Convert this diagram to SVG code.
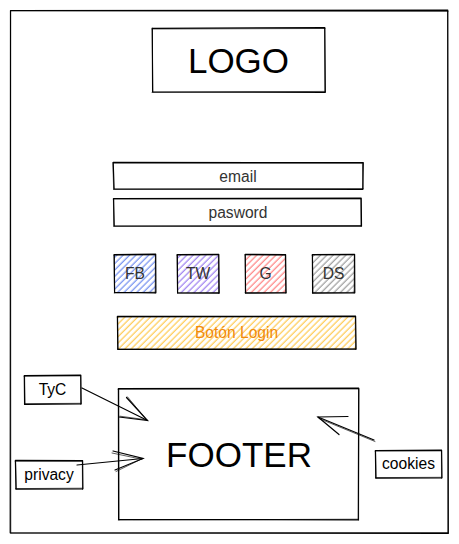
<svg xmlns="http://www.w3.org/2000/svg" width="459" height="544" viewBox="0 0 459 544">
<defs>
<style>
.s{fill:none;stroke:#000;stroke-width:1.2;stroke-linecap:round;stroke-linejoin:round}
.s2{fill:none;stroke:#000;stroke-width:0.8;stroke-linecap:round;opacity:0.8}
.t{font-family:"Liberation Sans",Arial,sans-serif;fill:#000;text-anchor:middle;dominant-baseline:central;font-size:15.6px}
.big{font-size:35px}
.g3{fill:#333}
.or{fill:#f08a0b}
.c{fill:none;stroke:#000;stroke-width:1.2;stroke-linecap:round}
</style>
<pattern id="hb" width="4.5" height="4.5" patternUnits="userSpaceOnUse" patternTransform="rotate(45)"><line x1="2" y1="0" x2="2" y2="4.5" stroke="#6f8cf0" stroke-width="1.2"/></pattern>
<pattern id="hp" width="4.5" height="4.5" patternUnits="userSpaceOnUse" patternTransform="rotate(45)"><line x1="2" y1="0" x2="2" y2="4.5" stroke="#9b7cf0" stroke-width="1.2"/></pattern>
<pattern id="hr" width="4.5" height="4.5" patternUnits="userSpaceOnUse" patternTransform="rotate(45)"><line x1="2" y1="0" x2="2" y2="4.5" stroke="#ff7f7f" stroke-width="1.2"/></pattern>
<pattern id="hg" width="4.5" height="4.5" patternUnits="userSpaceOnUse" patternTransform="rotate(45)"><line x1="2" y1="0" x2="2" y2="4.5" stroke="#9a9a9a" stroke-width="1.2"/></pattern>
<pattern id="hy" width="4.5" height="4.5" patternUnits="userSpaceOnUse" patternTransform="rotate(45)"><line x1="2" y1="0" x2="2" y2="4.5" stroke="#ffc94d" stroke-width="1.2"/></pattern>
</defs>
<rect width="459" height="544" fill="#fff"/>

<g id="frame">
<path class="s" d="M10.5 10.5 L447.8 10.2 L448.3 533.4 L10.2 532.8 Z"/>
<path class="s2" d="M11 11 L448 11.5 M447.5 11 L447.9 533 M448 532.5 L11 533 M10.8 533 L10.6 11"/>
</g>

<g id="logo">
<rect x="152" y="28" width="173" height="64" fill="#fff"/>
<path class="s" d="M152.3 28.4 L324.8 27.6 L325.3 92.3 L152.6 91.8 Z"/>
<path class="s2" d="M152 29 L325 28.5 M324.6 28 L324.9 92 M325 91.4 L152 92.4 M152.8 92 L152.2 28"/>
<text class="t big" x="238.5" y="60.5">LOGO</text>
</g>

<g id="email">
<rect x="113" y="162" width="250" height="27" fill="#fff"/>
<path class="s" d="M113.2 162.3 L363.3 162.7 L362.8 189.3 L114.1 188.8 Z"/>
<path class="s2" d="M113.5 163 L362.5 163.3 M362.4 162.5 L363 189 M363 188.6 L113.5 189.5 M113.6 189 L112.9 162.6"/>
<text class="t g3" x="238" y="176">email</text>
</g>

<g id="password">
<rect x="113" y="198" width="248" height="28" fill="#fff"/>
<path class="s" d="M113.6 198.5 L361.2 198.2 L361.5 226.2 L114.2 225.8 Z"/>
<path class="s2" d="M113.2 199.2 L360.6 199 M360.8 198.6 L361 226 M361 225.5 L113.6 226.4 M113.8 226 L113.4 198.6"/>
<text class="t g3" x="238" y="212">pasword</text>
</g>

<g id="fb">
<rect x="114" y="254" width="42" height="39" fill="url(#hb)"/>
<path class="s" d="M114.2 254.6 L155.7 254.2 L155.9 292.8 L114.6 292.4 Z"/>
<path class="s2" d="M113.8 255.2 L155.3 255 M155.4 254.6 L155.2 293 M155.6 292.2 L114.2 293 M114.5 292.8 L114.1 254.7"/>
<text class="t g3" x="135" y="273">FB</text>
</g>

<g id="tw">
<rect x="177" y="254" width="42" height="39" fill="url(#hp)"/>
<path class="s" d="M177.3 254.5 L218.8 254.4 L219.2 293.2 L177.6 292.8 Z"/>
<path class="s2" d="M177 255.3 L218.5 255 M218.4 254.8 L218.6 293.5 M218.9 292.6 L177.4 293 M177.5 293.1 L177.1 254.4"/>
<text class="t g3" x="198" y="273">TW</text>
</g>

<g id="g">
<rect x="245" y="254" width="41" height="39" fill="url(#hr)"/>
<path class="s" d="M245.2 254.3 L285.6 254.7 L286.1 292.9 L245.5 293.2 Z"/>
<path class="s2" d="M245 255 L285.4 255.3 M285.3 254.4 L285.6 293 M285.9 292.5 L245.1 292.6 M245.6 293 L245.3 254.5"/>
<text class="t g3" x="265.5" y="273">G</text>
</g>

<g id="ds">
<rect x="312" y="254" width="43" height="39" fill="url(#hg)"/>
<path class="s" d="M312.4 254.5 L354.6 254.3 L354.8 292.8 L312.6 293.2 Z"/>
<path class="s2" d="M312 255.2 L354.2 255 M354.3 254.6 L354.2 293 M354.5 292.4 L312.3 292.7 M312.9 293 L312.5 254.6"/>
<text class="t g3" x="333.5" y="273">DS</text>
</g>

<g id="login">
<rect x="117" y="316" width="239" height="33" fill="url(#hy)"/>
<path class="s" d="M117.4 316.4 L355.6 316.2 L356.1 349.2 L117.8 349.5 Z"/>
<path class="s2" d="M117.2 317.1 L355.3 316.9 M355.3 316.5 L355.5 349.5 M355.7 348.7 L117.4 348.9 M118 349.4 L117.6 316.5"/>
<text class="t or" x="236.5" y="332.5">Botón Login</text>
</g>

<g id="footer">
<path class="s" d="M118.4 388.6 L358.7 388.2 L358.3 519.8 L118.6 519.4 Z"/>
<path class="s2" d="M118 389.3 L358.3 389 M358.9 388.8 L358.6 520.3 M358.5 519.2 L118.3 520.1 M119 520 L118.8 388.4"/>
<text class="t big" x="239" y="454">FOOTER</text>
</g>

<g id="tyc">
<rect x="24" y="375" width="57" height="29" fill="#fff"/>
<path class="s" d="M24.3 375.6 L80.8 375.2 L81.2 403.9 L24.6 404.4 Z"/>
<path class="s2" d="M24 376.3 L80.4 375.9 M80.6 375.4 L80.6 404.3 M80.9 403.3 L24.3 403.7 M25 404.2 L24.6 375.5"/>
<text class="t" x="52.5" y="389.5">TyC</text>
</g>

<g id="privacy">
<rect x="15" y="460" width="68" height="29" fill="#fff"/>
<path class="s" d="M15.4 460.4 L82.6 460.7 L82.9 488.8 L16 489.2 Z"/>
<path class="s2" d="M15.1 461.2 L82.4 461.4 M82.3 460.4 L82.5 489.5 M82.8 488.2 L15.5 488.6 M16.2 489 L15.6 460.6"/>
<text class="t" x="49" y="474.5">privacy</text>
</g>

<g id="cookies">
<rect x="375" y="450" width="67" height="28" fill="#fff"/>
<path class="s" d="M375.4 450.5 L441.6 450.2 L442 477.8 L375.8 478.2 Z"/>
<path class="s2" d="M375.1 451.2 L441.3 450.9 M441.4 450.4 L441.5 478.3 M441.7 477.3 L375.5 477.6 M376.1 478 L375.6 450.4"/>
<text class="t" x="408.5" y="463.5">cookies</text>
</g>

<g id="connectors">
<path class="c" d="M82 388 L147.5 420.5"/>
<path class="c" d="M126.5 397.5 L147.5 420.5 L119 417"/>
<path class="s2" d="M127.5 396.8 L146.5 419.8 L120 416.2"/>
<path class="c" d="M77 465 L143 458.5"/>
<path class="c" d="M113 451 L143 458.5 L115 470"/>
<path class="s2" d="M112 453 L142 459.3 M116 471.5 L141.5 459"/>
<path class="c" d="M374 440 L318 417"/>
<path class="s2" d="M375 441.5 L319 418.5"/>
<path class="c" d="M339 434.5 L318 417 L348 416.5"/>
</g>
</svg>
